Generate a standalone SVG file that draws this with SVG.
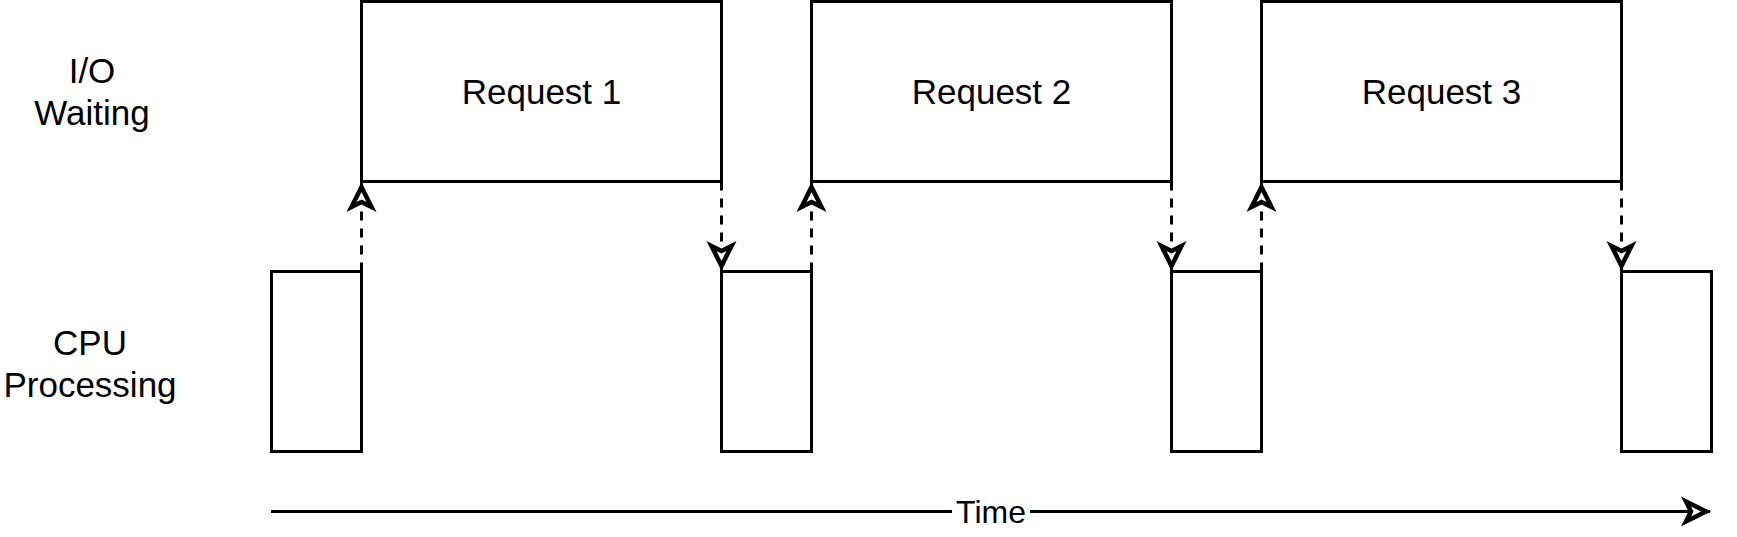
<svg xmlns="http://www.w3.org/2000/svg" width="1737" height="537" viewBox="0 0 1737 537">
  <defs>
    <style>
      .box { fill: #ffffff; stroke: #000000; stroke-width: 3; }
      .lbl { font-family: "Liberation Sans", Arial, Helvetica, sans-serif; font-size: 35px; fill: #000000; text-anchor: middle; }
      .dash { fill: none; stroke: #000000; stroke-width: 3; stroke-dasharray: 9 8; }
      .solid { fill: none; stroke: #000000; stroke-width: 3; }
    </style>
    <marker id="arr" markerUnits="userSpaceOnUse" markerWidth="40" markerHeight="40" refX="24" refY="10" orient="auto" overflow="visible">
      <path d="M0,0 L20,10 L0,20 L5,10 Z" fill="#ffffff" stroke="#000000" stroke-width="4.5" stroke-linejoin="miter"/>
    </marker>
  </defs>
  <rect width="1737" height="537" fill="#ffffff"/>

  <g id="label-io">
    <text class="lbl" x="92" y="83">I/O</text>
    <text class="lbl" x="92" y="125">Waiting</text>
  </g>
  <g id="label-cpu">
    <text class="lbl" x="90" y="355">CPU</text>
    <text class="lbl" x="90" y="397">Processing</text>
  </g>

  <g id="request-1">
    <rect class="box" x="361.5" y="1.5" width="360" height="180"/>
    <text class="lbl" x="541.5" y="104">Request 1</text>
  </g>
  <g id="request-2">
    <rect class="box" x="811.5" y="1.5" width="360" height="180"/>
    <text class="lbl" x="991.5" y="104">Request 2</text>
  </g>
  <g id="request-3">
    <rect class="box" x="1261.5" y="1.5" width="360" height="180"/>
    <text class="lbl" x="1441.5" y="104">Request 3</text>
  </g>

  <g id="cpu-1"><rect class="box" x="271.5" y="271.5" width="90" height="180"/></g>
  <g id="cpu-2"><rect class="box" x="721.5" y="271.5" width="90" height="180"/></g>
  <g id="cpu-3"><rect class="box" x="1171.5" y="271.5" width="90" height="180"/></g>
  <g id="cpu-4"><rect class="box" x="1621.5" y="271.5" width="90" height="180"/></g>

  <g id="connectors">
    <line class="dash" x1="361.5" y1="271.5" x2="361.5" y2="183" marker-end="url(#arr)"/>
    <line class="dash" x1="721.5" y1="181.5" x2="721.5" y2="270" marker-end="url(#arr)"/>
    <line class="dash" x1="811.5" y1="271.5" x2="811.5" y2="183" marker-end="url(#arr)"/>
    <line class="dash" x1="1171.5" y1="181.5" x2="1171.5" y2="270" marker-end="url(#arr)"/>
    <line class="dash" x1="1261.5" y1="271.5" x2="1261.5" y2="183" marker-end="url(#arr)"/>
    <line class="dash" x1="1621.5" y1="181.5" x2="1621.5" y2="270" marker-end="url(#arr)"/>
    <line class="solid" x1="271" y1="511.5" x2="1710" y2="511.5" marker-end="url(#arr)"/>
  </g>
  <g id="time-label">
    <rect x="952" y="496" width="78" height="31" fill="#ffffff"/>
    <text class="lbl" x="991" y="523" style="font-size:32px">Time</text>
  </g>
</svg>
